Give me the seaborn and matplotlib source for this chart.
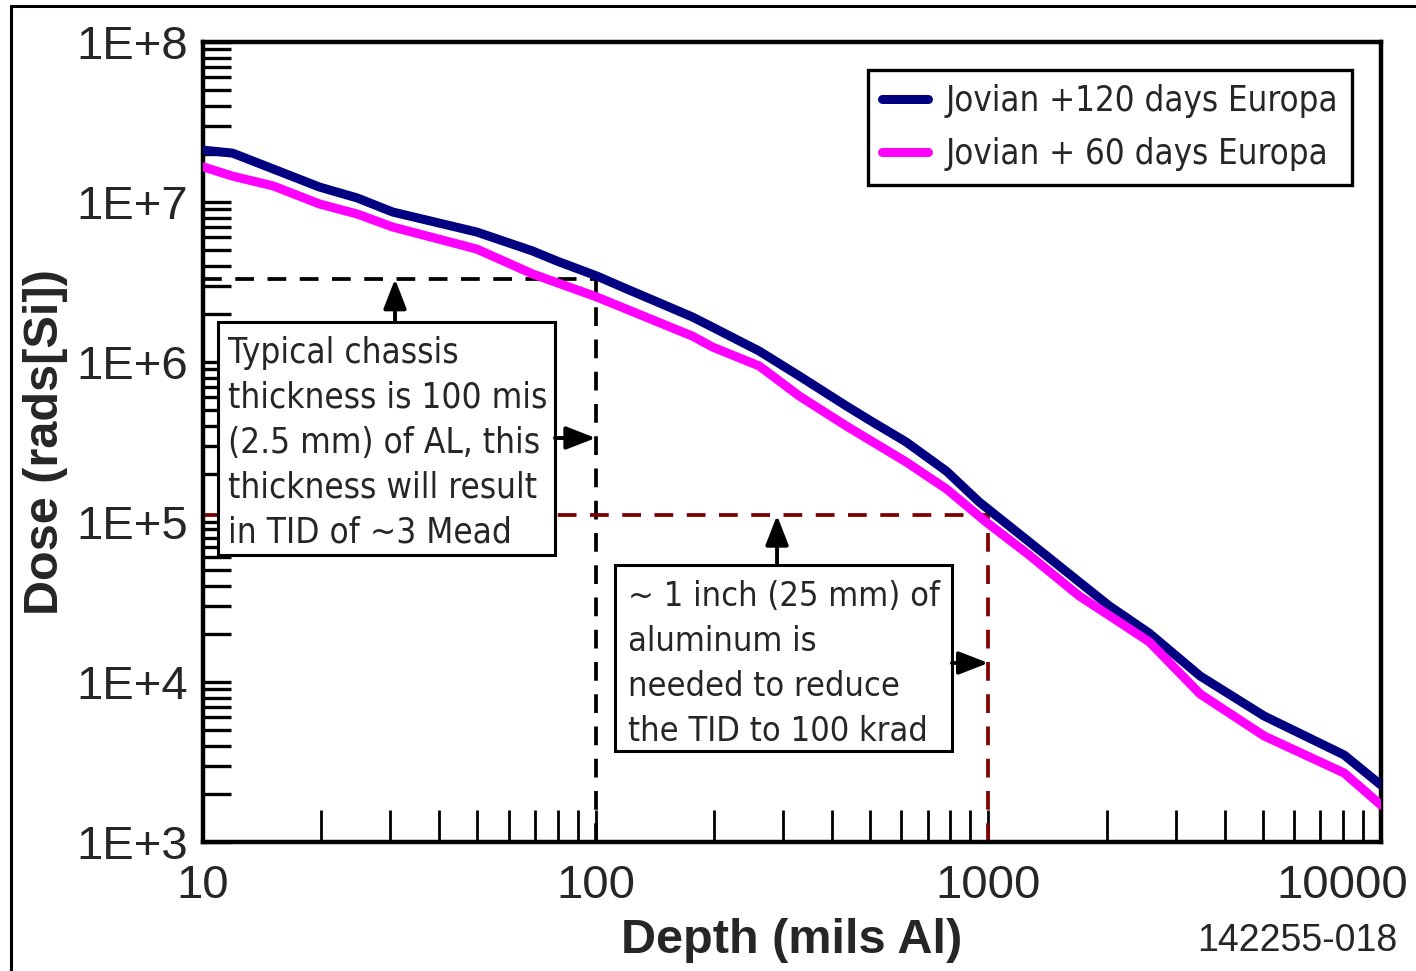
import os
import numpy as np
import pandas as pd
import matplotlib
matplotlib.use("Agg")
import matplotlib.pyplot as plt
import seaborn as sns
from matplotlib import font_manager as fm
from matplotlib.font_manager import FontProperties
from matplotlib.patches import Rectangle
from matplotlib.lines import Line2D
from matplotlib.ticker import FixedLocator, FixedFormatter, LogLocator, NullFormatter
from matplotlib.transforms import ScaledTranslation

# ---------------- data ----------------
depth_120 = [10, 11.9, 19.8, 24.7, 30.4, 49.8, 69.1, 79.6, 100.6, 120, 176.5, 198.5, 261, 330,
             435, 507, 618, 782, 949, 1272, 1704, 2032, 2569, 3463, 5039, 8054, 10000]
dose_120 = [2.11e7, 2.02e7, 1.24e7, 1.06e7, 8.66e6, 6.49e6, 4.94e6, 4.28e6, 3.45e6, 2.86e6,
            1.91e6, 1.65e6, 1.17e6, 8.18e5, 5.31e5, 4.22e5, 3.16e5, 2.08e5, 1.33e5, 7.5e4,
            4.22e4, 2.99e4, 2.02e4, 1.09e4, 6.13e3, 3.50e3, 2.27e3]
depth_60 = [10, 11.9, 15.1, 19.8, 24.7, 30.4, 49.8, 69.1, 100.6, 176.5, 198.5, 261, 330, 435,
            618, 782, 987, 1272, 1704, 2034, 2571, 3463, 5039, 8054, 10000]
dose_60 = [1.66e7, 1.45e7, 1.26e7, 9.72e6, 8.41e6, 6.98e6, 5.08e6, 3.55e6, 2.55e6, 1.45e6,
           1.24e6, 9.44e5, 6.13e5, 3.98e5, 2.37e5, 1.61e5, 1.0e5, 6.2e4, 3.45e4, 2.6e4,
           1.78e4, 8.41e3, 4.60e3, 2.70e3, 1.70e3]
series_names = ["Jovian +120 days Europa", "Jovian + 60 days Europa"]
series_colors = ["#000080", "#FF00FF"]

x_ticks = [10, 100, 1000, 10000]
x_ticklabels = ["10", "100", "1000", "10000"]
y_ticks = [1e3, 1e4, 1e5, 1e6, 1e7, 1e8]
y_ticklabels = ["1E+3", "1E+4", "1E+5", "1E+6", "1E+7", "1E+8"]

# guide lines (chassis and 1-inch)
chassis_depth = 100
chassis_dose = 3.3e6
inch_depth = 1000
inch_dose = 1.1e5

note1 = ("Typical chassis\nthickness is 100 mis\n(2.5 mm) of AL, this\n"
         "thickness will result\nin TID of ~3 Mead")
note2 = "~ 1 inch (25 mm) of\naluminum is\nneeded to reduce\nthe TID to 100 krad"
x_title = "Depth (mils Al)"
y_title = "Dose (rads[Si])"
figure_id = "142255-018"

# ---------------- style ----------------
sns.set_style("white")
avail = {f.name for f in fm.fontManager.ttflist}
REG = "Liberation Sans" if "Liberation Sans" in avail else "DejaVu Sans"
plt.rcParams["font.family"] = [REG, "DejaVu Sans"]

# pick a narrow / condensed face if one is installed
pref = ["liberationsansnarrow-regular.ttf", "arialn.ttf", "dejavusanscondensed.ttf",
        "notosans-condensed.ttf", "robotocondensed-regular.ttf", "opensans-condensed.ttf"]
files = {os.path.basename(f.fname).lower(): f.fname for f in fm.fontManager.ttflist}
narrow_file = None
for p in pref:
    if p in files:
        narrow_file = files[p]
        break
if narrow_file is None:
    for b, path in sorted(files.items()):
        if ("narrow" in b or "condensed" in b) and not any(
                k in b for k in ["bold", "italic", "oblique", "light", "thin", "medium",
                                 "black", "semi", "extra"]):
            narrow_file = path
            break


def narrow_prop(size):
    if narrow_file:
        return FontProperties(fname=narrow_file, size=size)
    return FontProperties(family=REG, size=size)


df = pd.concat([
    pd.DataFrame({"depth": depth_120, "dose": dose_120, "series": series_names[0]}),
    pd.DataFrame({"depth": depth_60, "dose": dose_60, "series": series_names[1]}),
], ignore_index=True)

fig = plt.figure(figsize=(14.16, 9.71), dpi=100)
ax = fig.add_axes([203 / 1416, 1 - 842 / 971, 1178 / 1416, 800 / 971])
renderer = fig.canvas.get_renderer()


def fit_prop(sample, target_px):
    p = narrow_prop(30)
    w, h, d = renderer.get_text_width_height_descent(sample, p, ismath=False)
    return narrow_prop(30 * target_px / w)


def line_factor(prop, step_px):
    _, h, d = renderer.get_text_width_height_descent("lp", prop, ismath=False)
    return 0.853 * step_px / (h - d)


sns.lineplot(data=df, x="depth", y="dose", hue="series", hue_order=series_names,
             palette=series_colors, linewidth=6.5, sort=False, estimator=None, ax=ax,
             zorder=3)

ax.set_xscale("log")
ax.set_yscale("log")
ax.set_xlim(10, 10000)
ax.set_ylim(1e3, 1e8)

ax.xaxis.set_major_locator(FixedLocator(x_ticks))
ax.xaxis.set_major_formatter(FixedFormatter(x_ticklabels))
ax.xaxis.set_minor_locator(LogLocator(base=10, subs=np.arange(2, 10)))
ax.xaxis.set_minor_formatter(NullFormatter())
ax.yaxis.set_major_locator(FixedLocator(y_ticks))
ax.yaxis.set_major_formatter(FixedFormatter(y_ticklabels))
ax.yaxis.set_minor_locator(LogLocator(base=10, subs=np.arange(2, 10)))
ax.yaxis.set_minor_formatter(NullFormatter())

ax.tick_params(axis="x", which="both", direction="in", length=23, width=2.0,
               color="black", labelsize=34, pad=16, top=False, bottom=True)
ax.tick_params(axis="y", which="both", direction="in", length=20, width=2.4,
               color="black", labelsize=34, pad=11, left=True, right=False)
for sp in ax.spines.values():
    sp.set_linewidth(3.2)
    sp.set_color("black")

ax.set_xlabel(x_title, fontsize=35, fontweight="bold", labelpad=7)
ax.set_ylabel(y_title, fontsize=35, fontweight="bold", labelpad=6)

# shift the last x tick label left so it stays on the canvas
fig.canvas.draw()
lab = ax.get_xticklabels()[-1]
lab.set_transform(lab.get_transform() + ScaledTranslation(-0.39, 0, fig.dpi_scale_trans))

# guide dashed lines
dash = (5, 3.6)
ax.plot([10, chassis_depth], [chassis_dose, chassis_dose], color="black", lw=2.7,
        dashes=dash, zorder=2)
ax.plot([chassis_depth, chassis_depth], [1e3, chassis_dose], color="black", lw=2.7,
        dashes=dash, zorder=2)
ax.plot([10, inch_depth], [inch_dose, inch_dose], color="#800000", lw=2.7,
        dashes=dash, zorder=2)
ax.plot([inch_depth, inch_depth], [1e3, inch_dose], color="#800000", lw=2.7,
        dashes=dash, zorder=2)

# annotation boxes
note_prop1 = fit_prop("thickness will result", 308)
note_prop2 = fit_prop("~ 1 inch (25 mm) of", 312)


def note_box(x0, y0, x1, y1, tx, ty, txt, prop):
    ax.add_patch(Rectangle((x0, y0), x1 - x0, y1 - y0, transform=ax.transAxes,
                           facecolor="white", edgecolor="black", lw=2.2, zorder=6,
                           clip_on=False))
    ax.text(tx, ty, txt, transform=ax.transAxes, ha="left", va="top",
            fontproperties=prop, linespacing=line_factor(prop, 44.5), zorder=7)

note_box(0.0127, 0.35875, 0.2988, 0.65, 0.0212, 0.6325, note1, note_prop1)
note_box(0.3497, 0.11375, 0.6358, 0.34625, 0.3608, 0.327, note2, note_prop2)

arrow = dict(arrowstyle="-|>,head_length=0.9,head_width=0.35", lw=2.8, color="black",
             mutation_scale=20, shrinkA=0, shrinkB=0)
ax.annotate("", xy=(0.163, chassis_dose), xytext=(0.163, 0.65),
            xycoords=("axes fraction", "data"), textcoords="axes fraction",
            arrowprops=arrow, zorder=6)
ax.annotate("", xy=(chassis_depth, 0.505), xytext=(0.2988, 0.505),
            xycoords=("data", "axes fraction"), textcoords="axes fraction",
            arrowprops=arrow, zorder=6)
ax.annotate("", xy=(0.4873, inch_dose), xytext=(0.4873, 0.34625),
            xycoords=("axes fraction", "data"), textcoords="axes fraction",
            arrowprops=arrow, zorder=6)
ax.annotate("", xy=(inch_depth, 0.22375), xytext=(0.6358, 0.22375),
            xycoords=("data", "axes fraction"), textcoords="axes fraction",
            arrowprops=arrow, zorder=6)

# legend
leg_prop = fit_prop(series_names[0], 392)
leg_fs = leg_prop.get_size_in_points()
leg_px = leg_fs * 100 / 72
handles, labels = ax.get_legend_handles_labels()
for h in handles:
    h.set_linewidth(6.5)
leg = ax.legend(handles, labels, loc="upper left", bbox_to_anchor=(0.5645, 0.965),
                borderaxespad=0, fancybox=False, framealpha=1, edgecolor="black",
                prop=leg_prop, handlelength=46 / leg_px,
                handletextpad=18 / leg_px, labelspacing=0.55,
                borderpad=0.4, handleheight=0.7)
leg.get_frame().set_linewidth(2.4)
leg.set_zorder(8)

# figure frame (top and left) and id
fig.add_artist(Line2D([11 / 1416, 1], [1 - 6 / 971, 1 - 6 / 971], transform=fig.transFigure,
                      color="black", lw=2.2))
fig.add_artist(Line2D([11 / 1416, 11 / 1416], [0, 1 - 6 / 971], transform=fig.transFigure,
                      color="black", lw=2.2))
fig.text(1297 / 1416, 1 - 941 / 971, figure_id, ha="center", va="center", fontsize=27)

fig.savefig("out.png", dpi=100)
